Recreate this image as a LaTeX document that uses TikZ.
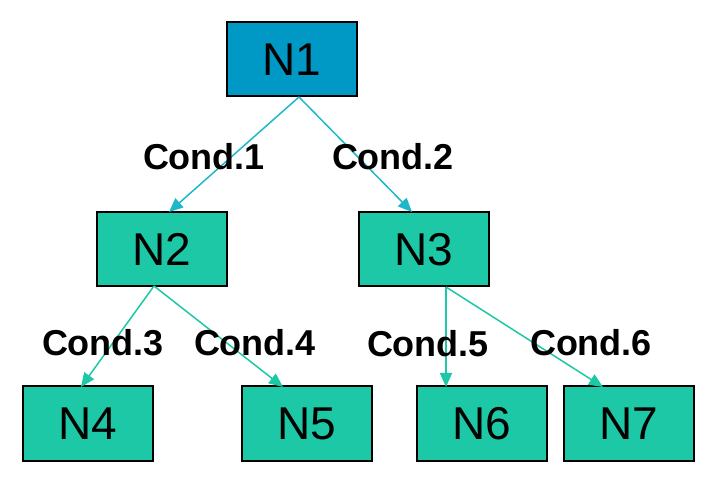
\documentclass[tikz,border=0pt]{standalone}
\usepackage{fontspec}
\setmainfont{Liberation Sans}
\usetikzlibrary{arrows.meta}
\definecolor{bluefill}{RGB}{0,153,198}
\definecolor{greenfill}{RGB}{28,200,165}
\definecolor{cyanline}{RGB}{30,184,200}
\definecolor{greenline}{RGB}{28,200,165}
\tikzset{
  box/.style={draw=black, line width=2pt, minimum width=130pt, minimum height=74pt, inner sep=0pt, font=\fontsize{46}{50}\selectfont},
  rootbox/.style={box, fill=bluefill},
  leafbox/.style={box, fill=greenfill},
  cond/.style={font=\fontsize{36}{40}\selectfont\bfseries, inner sep=0pt},
  conn/.style={line width=1.5pt, -{Triangle[length=14pt,width=12pt]}},
}
\begin{document}
\begin{tikzpicture}[x=1pt,y=-1pt]
\useasboundingbox (0,0) rectangle (713,481);
\node[rootbox] (n1) at (292,59.5) {N1};
\node[leafbox] (n2) at (161.5,249) {N2};
\node[leafbox] (n3) at (424,249.5) {N3};
\node[leafbox] (n4) at (88,423.5) {N4};
\node[leafbox] (n5) at (307,423.5) {N5};
\node[leafbox] (n6) at (481.5,423.5) {N6};
\node[leafbox] (n7) at (628.5,423.5) {N7};
\coordinate (s1) at (299,97);
\coordinate (s2) at (154,286);
\coordinate (s3) at (446,287);
\coordinate (t2) at (169,212);
\coordinate (t3) at (412,212);
\coordinate (t4) at (81,387);
\coordinate (t5) at (283,387);
\coordinate (t6) at (446,387);
\coordinate (t7) at (603,387);
\draw[conn, draw=cyanline, fill=cyanline] (s1) -- (t2);
\draw[conn, draw=cyanline, fill=cyanline] (s1) -- (t3);
\draw[conn, draw=greenline, fill=greenline] (s2) -- (t4);
\draw[conn, draw=greenline, fill=greenline] (s2) -- (t5);
\draw[conn, draw=greenline, fill=greenline] (s3) -- (t6);
\draw[conn, draw=greenline, fill=greenline] (s3) -- (t7);
\node[cond] (c1) at (204,157) {Cond.1};
\node[cond] (c2) at (393,157) {Cond.2};
\node[cond] (c3) at (103,343) {Cond.3};
\node[cond] (c4) at (255,343) {Cond.4};
\node[cond] (c5) at (428,344) {Cond.5};
\node[cond] (c6) at (591,343) {Cond.6};
\end{tikzpicture}
\end{document}
